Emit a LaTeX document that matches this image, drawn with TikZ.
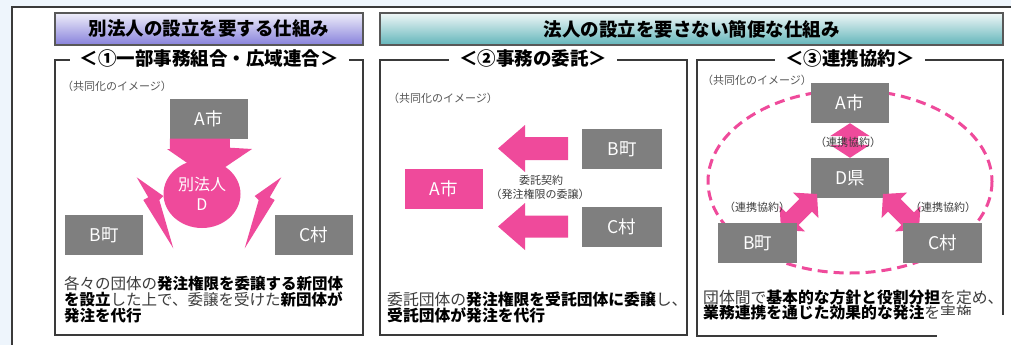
\documentclass[tikz,border=0pt]{standalone}
\usepackage{fontspec}
\setmainfont{Noto Sans CJK JP}
\usetikzlibrary{shapes.geometric,calc}
\definecolor{bgblue}{HTML}{EEF5FC}
\definecolor{boxgray}{HTML}{7F7F7F}
\definecolor{hotpink}{HTML}{EF4A9B}
\definecolor{framegray}{HTML}{3A3A3A}
\definecolor{txtgray}{HTML}{3C3C3C}
\definecolor{smallgray}{HTML}{555555}
\definecolor{lavtop}{HTML}{EFEEFA}
\definecolor{lavmid}{HTML}{C9C6F0}
\definecolor{lavbot}{HTML}{8781DB}
\definecolor{tealtop}{HTML}{F0F7F7}
\definecolor{tealmid}{HTML}{D3EBEB}
\definecolor{tealbot}{HTML}{62B5BA}
\tikzset{
 graybox/.style={fill=boxgray, text=white, minimum width=78pt, minimum height=40pt, inner sep=0pt, font=\fontsize{17.5}{20}\selectfont},
 pinkbox/.style={graybox, fill=hotpink},
 panel/.style={draw=framegray, line width=1.1pt},
 paneltitle/.style={fill=white, inner xsep=10pt, inner ysep=1pt, font=\bfseries\fontsize{18.5}{20}\selectfont},
 header/.style={draw=framegray!85, line width=1.4pt, minimum height=32pt, inner sep=0pt, font=\bfseries\fontsize{18.5}{20}\selectfont},
 note/.style={anchor=west, inner sep=0pt, text=smallgray, font=\fontsize{11}{12}\selectfont},
 body/.style={anchor=base west, inner sep=0pt, text=txtgray, font=\fontsize{15.5}{17}\selectfont},
 small/.style={inner sep=0pt, text=txtgray, font=\fontsize{11}{13}\selectfont},
}
\newcommand\hb[1]{\textbf{\color{black}#1}}
% double block arrow: from, to, half shaft, half head, head length
\newcommand\dblarrow[5]{%
 \fill[hotpink] let \p1=($(#2)-(#1)$), \n1={atan2(\y1,\x1)}, \n2={veclen(\x1,\y1)} in
 [shift={(#1)}, rotate=\n1] (0,0) -- (#5,#4) -- (#5,#3) -- (\n2-#5,#3) -- (\n2-#5,#4) -- (\n2,0)
 -- (\n2-#5,-#4) -- (\n2-#5,-#3) -- (#5,-#3) -- (#5,-#4) -- cycle;}
% single block arrow: from, to, half shaft, half head, head length
\newcommand\sglarrow[5]{%
 \fill[hotpink] let \p1=($(#2)-(#1)$), \n1={atan2(\y1,\x1)}, \n2={veclen(\x1,\y1)} in
 [shift={(#1)}, rotate=\n1] (0,-#3) -- (\n2-#5,-#3) -- (\n2-#5,-#4) -- (\n2,0)
 -- (\n2-#5,#4) -- (\n2-#5,#3) -- (0,#3) -- cycle;}
\begin{document}
\begin{tikzpicture}[x=1pt,y=-1pt]
\useasboundingbox (0,0) rectangle (1011,345);
\clip (0,0) rectangle (1011,345);
% background and outer frame
\fill[bgblue] (0,0) rectangle (1011,345);
\fill[white] (12,7) rectangle (1011,345);
\draw[framegray, line width=1.3pt] (12,346) -- (12,7) -- (1012,7);

% headers
\node[header, minimum width=308pt, top color=lavtop, middle color=lavmid, bottom color=lavbot] (h1) at (209,29) {別法人の設立を要する仕組み};
\node[header, minimum width=623pt, top color=tealtop, middle color=tealmid, bottom color=tealbot] (h2) at (691.5,29) {法人の設立を要さない簡便な仕組み};

% panels
\draw[panel] (55,60) rectangle (363,335);
\draw[panel] (380,60) rectangle (687,335);
\draw[panel] (697,60) rectangle (1003,336);
\node[paneltitle] (pt1) at (209,58) {＜①一部事務組合・広域連合＞};
\node[paneltitle] (pt2) at (533,58) {＜②事務の委託＞};
\node[paneltitle] (pt3) at (850,58) {＜③連携協約＞};

% ---------- panel 1 ----------
\node[note] (n1) at (62,86) {（共同化のイメージ）};
\node[graybox] (A1) at (209,118.5) {A市};
\node[graybox] (B1) at (104,235) {B町};
\node[graybox] (C1) at (314,235) {C村};
\fill[hotpink] (A1.south west) -- ++(60,0) -- ++(0,9) -- (252,149) -- (209,178) -- (167,149) -- (170,149) -- cycle;
\fill[hotpink] (136.7,177.3) -- (163.3,196) -- (159.3,200) -- (173.3,248.3) -- (143.3,200) -- (148.3,197.3) -- cycle;
\fill[hotpink] (281.3,177.3) -- (254.7,196) -- (258.7,200) -- (244.7,248.3) -- (274.7,200) -- (269.7,197.3) -- cycle;
\node[ellipse, fill=hotpink, minimum width=77pt, minimum height=68pt, inner sep=0pt, text=white, align=center, font=\fontsize{16}{20}\selectfont] (D1) at (202,194) {別法人\\D};
\node[body] (t1a) at (64,289) {各々の団体の\hb{発注権限を委譲する新団体}};
\node[body] (t1b) at (64,305.5) {\hb{を設立}した上で、委譲を受けた\hb{新団体が}};
\node[body] (t1c) at (64,321) {\hb{発注を代行}};

% ---------- panel 2 ----------
\node[note] (n2) at (388,98) {（共同化のイメージ）};
\node[graybox, minimum width=80pt] (B2) at (622,149) {B町};
\node[graybox, minimum width=80pt] (C2) at (622,227) {C村};
\node[pinkbox] (A2) at (444,189) {A市};
\coordinate (u1) at (568,148.5);
\coordinate (u2) at (498,148.5);
\coordinate (w1) at (568,226.5);
\coordinate (w2) at (498,226.5);
\sglarrow{u1}{u2}{11.5}{23.5}{27}
\sglarrow{w1}{w2}{11}{23.5}{27}
\node[small] (k1) at (541,180) {委託契約};
\node[small] (k2) at (540,194) {（発注権限の委譲）};
\node[body, font=\fontsize{15.8}{17}\selectfont] (t2a) at (387,305.5) {委託団体の\hb{発注権限を受託団体に委譲}し、};
\node[body, font=\fontsize{15.8}{17}\selectfont] (t2b) at (387,321) {\hb{受託団体が発注を代行}};

% ---------- panel 3 ----------
\node[note] (n3) at (702,80) {（共同化のイメージ）};
\draw[hotpink, line width=3pt, dash pattern=on 10pt off 6pt] (850,181.5) ellipse (142 and 91.5);
\node[graybox] (A3) at (850,103) {A市};
\node[graybox] (D3) at (850,178) {D県};
\coordinate (l1) at (781,230);
\coordinate (l2) at (817,194);
\coordinate (r1) at (919,230);
\coordinate (r2) at (883,194);
\dblarrow{A3.south}{D3.north}{8}{20}{13}
\dblarrow{l1}{l2}{9}{18}{16}
\dblarrow{r1}{r2}{9}{18}{16}
\node[graybox, minimum width=79pt] (B3) at (757.5,243) {B町};
\node[graybox, minimum width=79pt] (C3) at (942.5,243) {C村};
\node[small] (k3) at (848,142) {（連携協約）};
\node[small] (k4) at (757,207) {（連携協約）};
\node[small] (k5) at (943,207) {（連携協約）};
\node[body, font=\fontsize{15.8}{17}\selectfont] (t3a) at (703,303) {団体間で\hb{基本的な方針と役割分担}を定め、};
\node[body, font=\fontsize{15.8}{17}\selectfont] (t3b) at (703,318.5) {\hb{業務連携を通じた効果的な発注}を実施};

% white patch at bottom right
\fill[white] (937,315) rectangle (1011,345);
\end{tikzpicture}
\end{document}
